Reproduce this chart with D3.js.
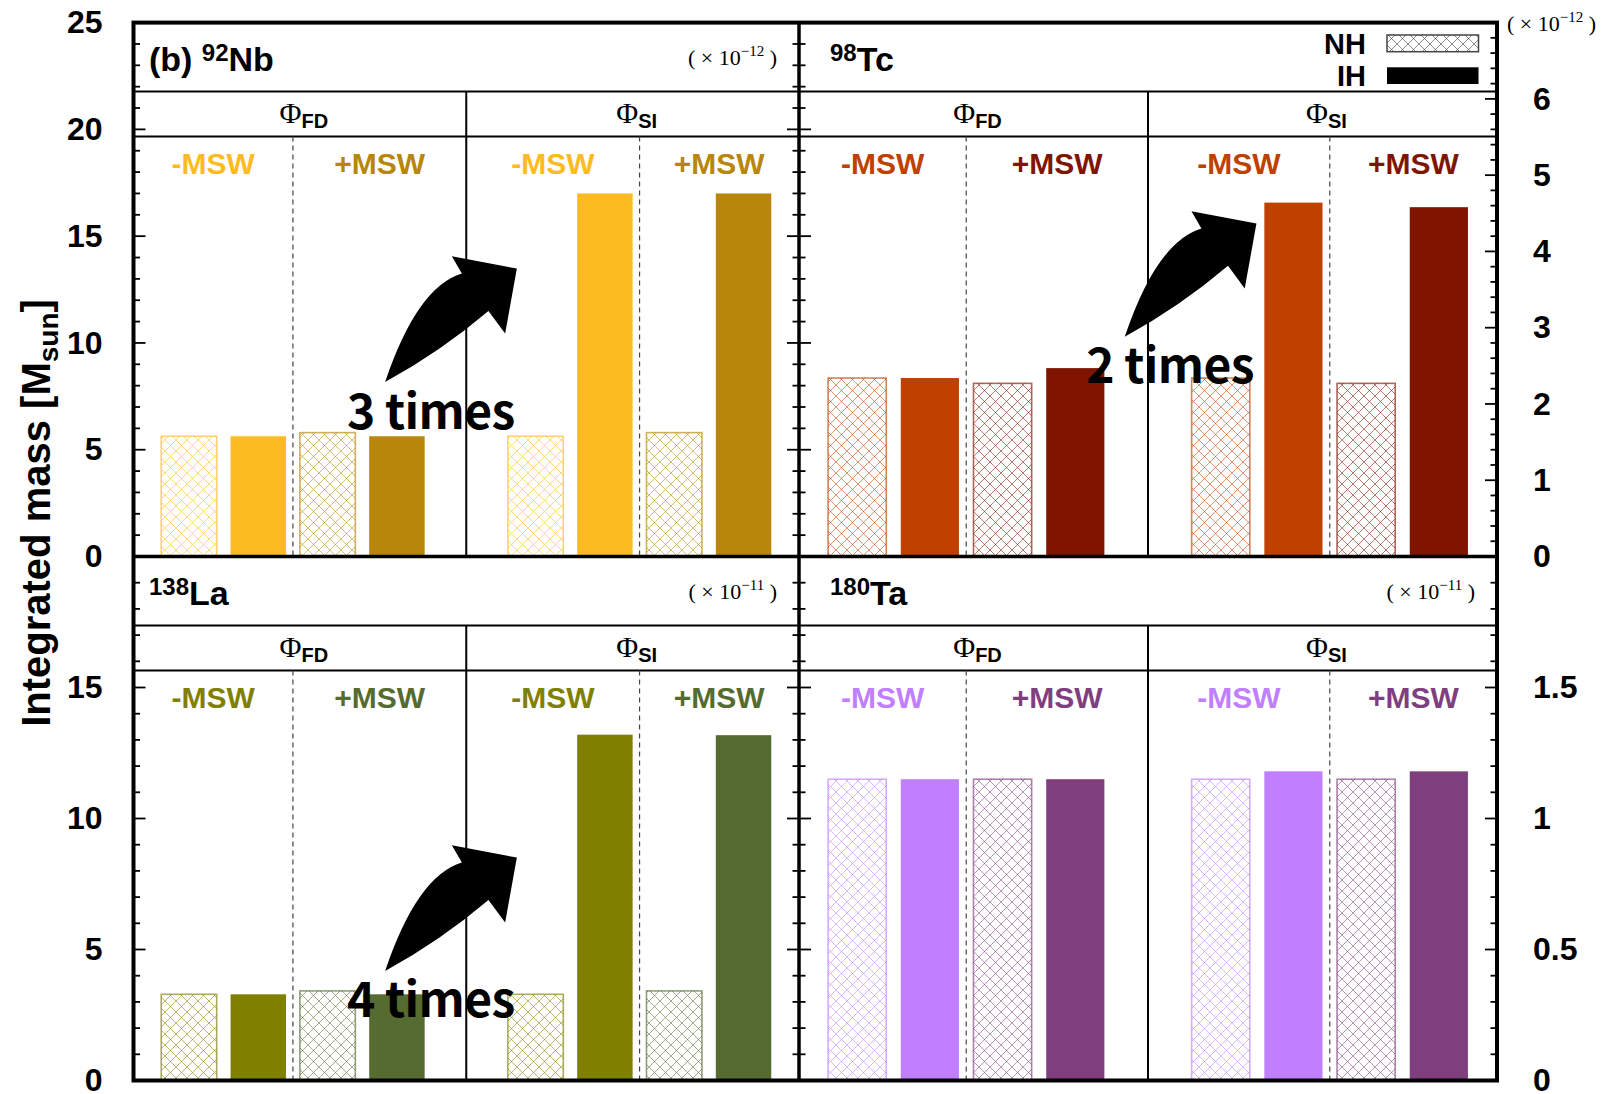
<!DOCTYPE html>
<html>
<head>
<meta charset="utf-8">
<script src="https://cdn.jsdelivr.net/npm/d3@7"></script>
<style>
  html, body { margin: 0; padding: 0; background: #fff; }
  svg { display: block; }
</style>
</head>
<body>
<svg id="chart" width="1610" height="1094"></svg>
<script>
// ---- data -------------------------------------------------------------
// Integrated masses (M_sun) of p-nuclides for two neutrino flux models,
// with and without MSW effect, for normal (NH) and inverted (IH) hierarchy.
const isotopeMass   = ["92", "98", "138", "180"];
const isotopeSymbol = ["Nb", "Tc", "La", "Ta"];
const unitExponent  = ["\u221212", "\u221212", "\u221211", "\u221211"];
const fluxModels    = ["FD", "SI"];
const mswCases      = ["-MSW", "+MSW"];
const hierarchies   = ["NH", "IH"];

// order of each series: FD -MSW, FD +MSW, SI -MSW, SI +MSW
const nb92NH  = [5.63, 5.80, 5.63, 5.80];
const nb92IH  = [5.63, 5.63, 17.0, 17.0];
const tc98NH  = [2.34, 2.27, 2.34, 2.27];
const tc98IH  = [2.34, 2.47, 4.64, 4.58];
const la138NH = [3.29, 3.42, 3.29, 3.42];
const la138IH = [3.29, 3.29, 13.2, 13.18];
const ta180NH = [1.15, 1.15, 1.15, 1.15];
const ta180IH = [1.15, 1.15, 1.18, 1.18];

const leftTickLabelsTop     = [0, 5, 10, 15, 20, 25];
const leftTickLabelsBottom  = [0, 5, 10, 15];
const rightTickLabelsTop    = [0, 1, 2, 3, 4, 5, 6];
const rightTickLabelsBottom = [0, 0.5, 1, 1.5];

const ratioNotes = ["3 times", "2 times", "4 times"];

// ---- styling ----------------------------------------------------------
const palette = [
  ["#FDBB22", "#B8860B"],
  ["#C04000", "#7F1500"],
  ["#808000", "#556B2F"],
  ["#BF7FFF", "#7F3F7F"]
];
const SANS = "'Liberation Sans', Arial, Helvetica, sans-serif";
const SERIF = "'Liberation Serif', 'Times New Roman', serif";
const KR = "'Noto Sans CJK KR', 'Noto Sans', sans-serif";

// ---- layout -----------------------------------------------------------
const FL = 133.5, FM = 799, FR = 1497;   // frame x edges
const FT = 22.6, FH = 556.5, FB = 1080.5; // frame y edges
const HEAD1 = 69, HEAD2 = 114;            // header rule offsets inside a panel

const svg = d3.select("#chart");
svg.append("rect").attr("width", 1610).attr("height", 1094).attr("fill", "#fff");
const defs = svg.append("defs");

function hatchId(color) {
  const id = "hatch-" + color.replace("#", "");
  if (defs.select("#" + id).empty()) {
    const p = defs.append("pattern").attr("id", id)
      .attr("patternUnits", "userSpaceOnUse").attr("width", 11).attr("height", 11);
    p.append("rect").attr("width", 11).attr("height", 11).attr("fill", "#fff");
    p.append("path").attr("d", "M0,0L11,11M11,0L0,11")
      .attr("stroke", color).attr("stroke-width", 0.8).attr("stroke-opacity", 0.7)
      .attr("fill", "none");
  }
  return "url(#" + id + ")";
}

const xLeft  = d3.scaleLinear().domain([-0.8, 8.8]).range([FL, FM]);
const xRight = d3.scaleLinear().domain([-0.8, 8.8]).range([FM, FR]);
const yTopL  = d3.scaleLinear().domain([0, 25]).range([FH, FT]);
const yTopR  = d3.scaleLinear().domain([0, 7]).range([FH, FT]);
const yBotL  = d3.scaleLinear().domain([0, 20]).range([FB, FH]);
const yBotR  = d3.scaleLinear().domain([0, 2]).range([FB, FH]);

const panels = [
  { x: xLeft,  y: yTopL, top: FT, bottom: FH, nh: nb92NH,  ih: nb92IH,  prefix: "(b) " },
  { x: xRight, y: yTopR, top: FT, bottom: FH, nh: tc98NH,  ih: tc98IH,  prefix: "" },
  { x: xLeft,  y: yBotL, top: FH, bottom: FB, nh: la138NH, ih: la138IH, prefix: "" },
  { x: xRight, y: yBotR, top: FH, bottom: FB, nh: ta180NH, ih: ta180IH, prefix: "" }
];

const barW = 0.8; // in slot units
const slotOf = j => Math.floor(j / 2) * 5 + (j % 2) * 2;

// ---- bars --------------------------------------------------------------
panels.forEach((p, pi) => {
  const g = svg.append("g");
  const rows = [];
  p.nh.forEach((v, j) => rows.push({ slot: slotOf(j), v, msw: j % 2, h: 0 }));
  p.ih.forEach((v, j) => rows.push({ slot: slotOf(j) + 1, v, msw: j % 2, h: 1 }));
  g.selectAll("rect").data(rows).join("rect")
    .attr("x", d => p.x(d.slot - barW / 2))
    .attr("width", d => p.x(d.slot + barW / 2) - p.x(d.slot - barW / 2))
    .attr("y", d => p.y(d.v))
    .attr("height", d => p.y(0) - p.y(d.v))
    .attr("fill", d => d.h ? palette[pi][d.msw] : hatchId(palette[pi][d.msw]))
    .attr("stroke", d => d.h ? "none" : palette[pi][d.msw])
    .attr("stroke-opacity", 0.65)
    .attr("stroke-width", 1.6);
});

// ---- annotations: arrows and ratios ----------------------------------
const arrowShape = "M0,0 Q32,-95 76.7,-108.4 L66.7,-125.7 L131.7,-113.4 L120,-48.4 L103.3,-71 Q55,-30 0,0Z";
const noteAnchors = [
  { panel: 0, ax: 2.83, ay: 8.17, tx: 2.28, ty: 5.97 },
  { panel: 1, ax: 3.68, ay: 2.88, tx: 3.15, ty: 2.27 },
  { panel: 2, ax: 2.83, ay: 4.18, tx: 2.28, ty: 2.42 }
];
const noteLayer = svg.append("g");

// ---- panel furniture --------------------------------------------------
panels.forEach((p, pi) => {
  const g = svg.append("g");
  const x0 = p.x.range()[0], x1 = p.x.range()[1];
  const h1 = p.top + HEAD1, h2 = p.top + HEAD2;
  // header rules
  [h1, h2].forEach(yy => g.append("line").attr("x1", x0).attr("x2", x1)
    .attr("y1", yy).attr("y2", yy).attr("stroke", "#000").attr("stroke-width", 2));
  // flux model divider
  g.append("line").attr("x1", p.x(4)).attr("x2", p.x(4)).attr("y1", h1).attr("y2", p.bottom)
    .attr("stroke", "#000").attr("stroke-width", 2);
  // MSW dividers
  [1.5, 6.5].forEach(k => g.append("line").attr("x1", p.x(k)).attr("x2", p.x(k))
    .attr("y1", h2).attr("y2", p.bottom).attr("stroke", "#444").attr("stroke-width", 1.2)
    .attr("stroke-dasharray", "5,4"));

  // title
  const t = g.append("text").attr("x", x0 + (pi % 2 ? 31 : 15.5)).attr("y", p.top + 48)
    .attr("font-family", SANS).attr("font-weight", 700).attr("font-size", 34);
  if (p.prefix) t.append("tspan").text(p.prefix);
  t.append("tspan").attr("font-size", 24).attr("dy", -10).text(isotopeMass[pi]);
  t.append("tspan").attr("dy", 10).text(isotopeSymbol[pi]);

  // unit exponent (not drawn in the panel that carries the legend)
  if (pi !== 1) {
    const u = g.append("text").attr("x", x1 - 22).attr("y", p.top + 42)
      .attr("text-anchor", "end").attr("font-family", SERIF).attr("font-size", 22);
    u.append("tspan").text("( \u00d7 10");
    u.append("tspan").attr("font-size", 15).attr("dy", -9).text(unitExponent[pi]);
    u.append("tspan").attr("dy", 9).text(" )");
  }

  // flux model labels
  const fluxCenters = [(p.x.domain()[0] + 4) / 2, (4 + p.x.domain()[1]) / 2];
  fluxModels.forEach((f, fi) => {
    const ft = g.append("text").attr("x", p.x(fluxCenters[fi]) + 4).attr("y", p.top + 100)
      .attr("text-anchor", "middle");
    ft.append("tspan").attr("font-family", SERIF).attr("font-size", 30).text("\u03a6");
    ft.append("tspan").attr("font-family", SANS).attr("font-weight", 700)
      .attr("font-size", 20).attr("dy", 5).text(f);
  });

  // MSW labels
  const mswBounds = [[p.x.domain()[0], 1.5], [1.5, 4], [4, 6.5], [6.5, p.x.domain()[1]]];
  mswBounds.forEach((b, k) => {
    g.append("text").attr("x", p.x((b[0] + b[1]) / 2)).attr("y", p.top + 151)
      .attr("text-anchor", "middle").attr("font-family", SANS).attr("font-weight", 700)
      .attr("font-size", 30).attr("fill", palette[pi][k % 2]).text(mswCases[k % 2]);
  });
});

// arrows
noteAnchors.forEach((a) => {
  const p = panels[a.panel];
  noteLayer.append("path").attr("d", arrowShape)
    .attr("transform", `translate(${p.x(a.ax)},${p.y(a.ay)})`).attr("fill", "#000");
});

// ---- frame ------------------------------------------------------------
const frame = svg.append("g").attr("stroke", "#000").attr("fill", "none");
frame.append("rect").attr("x", FL).attr("y", FT).attr("width", FR - FL).attr("height", FB - FT)
  .attr("stroke-width", 4);
frame.append("line").attr("x1", FM).attr("x2", FM).attr("y1", FT).attr("y2", FB).attr("stroke-width", 3.5);
frame.append("line").attr("x1", FL).attr("x2", FR).attr("y1", FH).attr("y2", FH).attr("stroke-width", 3.5);

// ---- ticks --------------------------------------------------------------
function tickSet(scale, x, dir, minorStep, majorStep) {
  const [lo, hi] = scale.domain();
  const n = Math.round((hi - lo) / minorStep);
  const vals = d3.range(n + 1).map(i => lo + i * minorStep);
  const isMajor = v => Math.abs(v / majorStep - Math.round(v / majorStep)) < 1e-6;
  svg.append("g").selectAll("line").data(vals).join("line")
    .attr("x1", x).attr("x2", d => x + dir * (isMajor(d) ? 12 : 6.5))
    .attr("y1", d => scale(d)).attr("y2", d => scale(d))
    .attr("stroke", "#000").attr("stroke-width", 1.8);
}
[[yTopL, yTopR, 1, 5, 0.2, 1], [yBotL, yBotR, 1, 5, 0.1, 0.5]].forEach(([yl, yr, ml, Ml, mr, Mr]) => {
  tickSet(yl, FL, 1, ml, Ml);
  tickSet(yl, FM, -1, ml, Ml);
  tickSet(yl, FM, 1, ml, Ml);
  tickSet(yr, FR, -1, mr, Mr);
});

// ---- tick labels --------------------------------------------------------
function labelAxis(axis, ticks, x) {
  const g = svg.append("g").attr("transform", `translate(${x},0)`)
    .call(axis.tickValues(ticks).tickSize(0).tickFormat(d3.format("~g")));
  g.select(".domain").remove();
  g.selectAll("text").attr("font-family", SANS).attr("font-weight", 700)
    .attr("font-size", 32).attr("fill", "#000");
}
labelAxis(d3.axisLeft(yTopL).tickPadding(31), leftTickLabelsTop, FL);
labelAxis(d3.axisLeft(yBotL).tickPadding(31), leftTickLabelsBottom, FL);
labelAxis(d3.axisRight(yTopR).tickPadding(36), rightTickLabelsTop, FR);
labelAxis(d3.axisRight(yBotR).tickPadding(36), rightTickLabelsBottom, FR);

// right-axis unit
const ru = svg.append("text").attr("x", FR + 10).attr("y", 31)
  .attr("font-family", SERIF).attr("font-size", 22);
ru.append("tspan").text("( \u00d7 10");
ru.append("tspan").attr("font-size", 15).attr("dy", -9).text(unitExponent[1]);
ru.append("tspan").attr("dy", 9).text(" )");

// y-axis title
const yt = svg.append("text").attr("transform", "translate(50,513) rotate(-90)")
  .attr("text-anchor", "middle").attr("font-family", SANS).attr("font-weight", 700)
  .attr("font-size", 40);
yt.append("tspan").text("Integrated mass [M");
yt.append("tspan").attr("font-size", 28).attr("dy", 8).text("sun");
yt.append("tspan").attr("dy", -8).text("]");

// ---- legend ---------------------------------------------------------------
const lg = svg.append("g");
hierarchies.forEach((h, i) => {
  const yy = 35 + i * 32.3;
  lg.append("rect").attr("x", FR - 110).attr("y", yy).attr("width", 91.5).attr("height", 16.7)
    .attr("fill", i ? "#000" : hatchId("#333333"))
    .attr("stroke", i ? "none" : "#444").attr("stroke-width", 1.5);
  lg.append("text").attr("x", FR - 131).attr("y", yy + 18.5).attr("text-anchor", "end")
    .attr("font-family", SANS).attr("font-weight", 700).attr("font-size", 29).text(h);
});

// ratio labels on top
noteAnchors.forEach((a, i) => {
  const p = panels[a.panel];
  svg.append("text").attr("x", p.x(a.tx)).attr("y", p.y(a.ty))
    .attr("font-family", KR).attr("font-weight", 700).attr("font-size", 48)
    .attr("letter-spacing", -0.6).attr("fill", "#000").text(ratioNotes[i]);
});
</script>
</body>
</html>
